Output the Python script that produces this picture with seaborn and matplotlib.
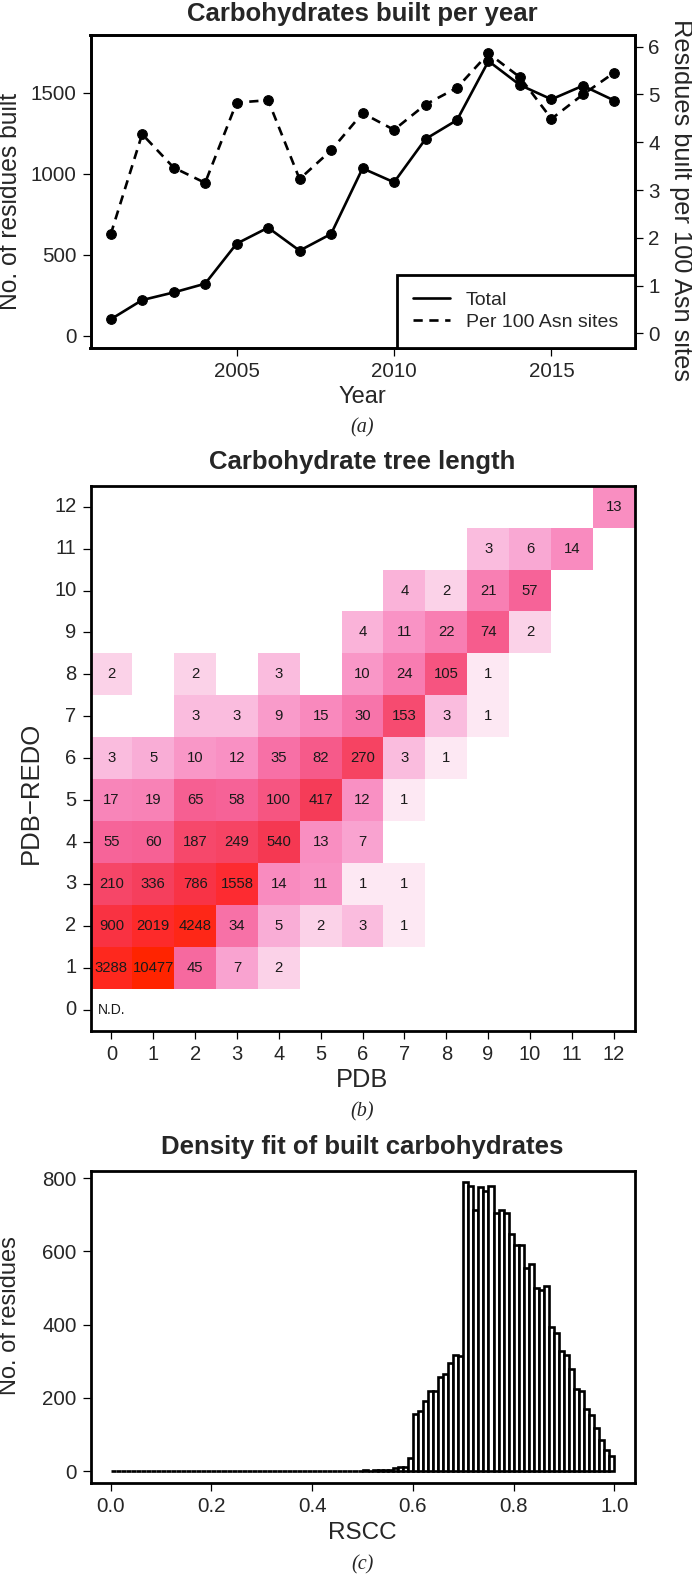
import numpy as np
import pandas as pd
import seaborn as sns
import matplotlib.pyplot as plt
from matplotlib.colors import LinearSegmentedColormap, LogNorm
from matplotlib.lines import Line2D

# (a) carbohydrates built per year
years = [2001, 2002, 2003, 2004, 2005, 2006, 2007, 2008, 2009,
         2010, 2011, 2012, 2013, 2014, 2015, 2016, 2017]
residues_total = [101, 220, 267, 321, 568, 667, 525, 628, 1033,
                  947, 1214, 1331, 1695, 1547, 1459, 1543, 1451]
residues_per_100_asn = [2.07, 4.17, 3.47, 3.15, 4.83, 4.88, 3.23, 3.83, 4.61,
                        4.26, 4.79, 5.14, 5.86, 5.36, 4.49, 5.00, 5.46]

# (b) tree length, rows = PDB-REDO length (12 down to 0), columns = PDB length 0..12
_ = None
tree_lengths = list(range(13))
redo_rows = list(range(12, -1, -1))
tree_counts = [
    [_, _, _, _, _, _, _, _, _, _, _, _, 13],
    [_, _, _, _, _, _, _, _, _, 3, 6, 14, _],
    [_, _, _, _, _, _, _, 4, 2, 21, 57, _, _],
    [_, _, _, _, _, _, 4, 11, 22, 74, 2, _, _],
    [2, _, 2, _, 3, _, 10, 24, 105, 1, _, _, _],
    [_, _, 3, 3, 9, 15, 30, 153, 3, 1, _, _, _],
    [3, 5, 10, 12, 35, 82, 270, 3, 1, _, _, _, _],
    [17, 19, 65, 58, 100, 417, 12, 1, _, _, _, _, _],
    [55, 60, 187, 249, 540, 13, 7, _, _, _, _, _, _],
    [210, 336, 786, 1558, 14, 11, 1, 1, _, _, _, _, _],
    [900, 2019, 4248, 34, 5, 2, 3, 1, _, _, _, _, _],
    [3288, 10477, 45, 7, 2, _, _, _, _, _, _, _, _],
    [_, _, _, _, _, _, _, _, _, _, _, _, _],
]
not_determined = 'N.D.'

# (c) RSCC histogram, 100 bins of width 0.01
rscc_counts = [
    0, 0, 0, 0, 0, 0, 0, 0, 0, 0,
    0, 0, 0, 0, 0, 0, 0, 0, 0, 0,
    0, 0, 0, 0, 0, 0, 0, 0, 0, 0,
    0, 0, 0, 0, 0, 0, 0, 0, 0, 0,
    0, 0, 0, 0, 0, 0, 0, 0, 0, 0,
    2, 1, 3, 2, 4, 4, 8, 12, 11, 36,
    155, 164, 191, 220, 220, 256, 265, 296, 317, 314,
    789, 780, 713, 777, 766, 780, 706, 713, 706, 647,
    618, 618, 556, 566, 499, 495, 506, 394, 378, 328,
    318, 280, 225, 218, 171, 154, 118, 86, 58, 41,
]

sns.set_style('ticks')
plt.rcParams['font.family'] = ['Liberation Sans', 'DejaVu Sans']
plt.rcParams['axes.linewidth'] = 2.0

W, H = 692, 1575
fig = plt.figure(figsize=(W / 100, H / 100), dpi=100)


def box(left, top, right, bottom):
    return [left / W, 1 - bottom / H, (right - left) / W, (bottom - top) / H]


def style_ticks(ax, size=14.8):
    ax.tick_params(direction='out', length=6, width=0.9, labelsize=size, pad=4, color='black')


def frame(ax):
    for s in ax.spines.values():
        s.set_visible(True)
        s.set_linewidth(2.0)
        s.set_color('black')


cx = 362.5 / W
title_kw = dict(ha='center', va='center', fontsize=18.5, fontweight='bold')
cap_kw = dict(ha='center', va='center', fontsize=14.5, style='italic', family='Liberation Serif')


def label(x, y, text, size, rot=0):
    fig.text(x / W, 1 - y / H, text, ha='center', va='center', fontsize=size, rotation=rot)


# ---------------- panel (a)
ax = fig.add_axes(box(90.5, 35, 634.6, 347.7))
sns.lineplot(x=years, y=residues_total, ax=ax, color='black', linewidth=1.9,
             marker='o', markersize=7, markeredgecolor='black')
ax.set_xlim(2000.36, 2017.64)
ax.set_ylim(-74, 1856)
ax.set_xticks([2005, 2010, 2015])
ax.set_yticks([0, 500, 1000, 1500])
ax.set_xlabel('')
ax.set_ylabel('')
style_ticks(ax)

ax2 = ax.twinx()
sns.lineplot(x=years, y=residues_per_100_asn, ax=ax2, color='black', linewidth=1.9,
             linestyle=(0, (3.5, 2.5)), marker='o', markersize=7, markeredgecolor='black')
ax2.set_ylim(-0.30, 6.245)
ax2.set_yticks(range(0, 7))
ax2.set_ylabel('')
style_ticks(ax2)
frame(ax2)

handles = [Line2D([], [], color='black', lw=1.9),
           Line2D([], [], color='black', lw=1.9, linestyle=(0, (3.5, 2.5)))]
leg = ax2.legend(handles, ['Total', 'Per 100 Asn sites'], loc='lower right',
                 borderaxespad=0, fancybox=False, framealpha=1, edgecolor='black',
                 fontsize=14, handlelength=1.9, handletextpad=0.8, borderpad=0.85,
                 labelspacing=0.25)
leg.get_frame().set_linewidth(2.0)

fig.text(cx, 1 - 14 / H, 'Carbohydrates built per year', **title_kw)
label(362.5, 397, 'Year', 17)
label(10, 201, 'No. of residues built', 17.7, 90)
label(681, 200, 'Residues built per 100 Asn sites', 18.3, 270)
fig.text(cx, 1 - 428 / H, '(a)', **cap_kw)

# ---------------- panel (b)
axb = fig.add_axes(box(90.5, 485.7, 634.6, 1030.7))
tree_df = pd.DataFrame(tree_counts, index=redo_rows, columns=tree_lengths, dtype=float)
annot = tree_df.apply(lambda col: col.map(lambda v: '' if pd.isna(v) else str(int(v))))
cmap = LinearSegmentedColormap.from_list('pinkred', [
    (0.0, '#fde8f3'), (0.075, '#fbd2e8'), (0.12, '#fabbdd'), (0.2, '#f9a6d2'),
    (0.28, '#f98cc0'), (0.43, '#f6649a'), (0.55, '#f64a6e'), (0.68, '#f53852'),
    (0.8, '#fd2b30'), (1.0, '#ff2400')])
sns.heatmap(tree_df, ax=axb, cmap=cmap, norm=LogNorm(vmin=1, vmax=10477),
            annot=annot.values, fmt='', cbar=False,
            annot_kws={'color': '#1a1a1a', 'fontsize': 10.7})
axb.text(tree_lengths.index(0) + 0.5, redo_rows.index(0) + 0.5, not_determined,
         ha='center', va='center', fontsize=10, color='#1a1a1a')
frame(axb)
axb.set_xlabel('')
axb.set_ylabel('')
axb.set_yticklabels(redo_rows, rotation=0)
axb.set_xticklabels(tree_lengths, rotation=0)
style_ticks(axb, 14.5)

fig.text(cx, 1 - 462 / H, 'Carbohydrate tree length', **title_kw)
label(362.5, 1080, 'PDB', 18.3)
label(31, 793, 'PDB\u2212REDO', 18.5, 90)
fig.text(cx, 1 - 1112 / H, '(b)', **cap_kw)

# ---------------- panel (c)
axc = fig.add_axes(box(90.5, 1170.7, 634.6, 1482.7))
rscc_df = pd.DataFrame({'rscc': np.arange(100) / 100 + 0.005, 'n': rscc_counts})
sns.histplot(data=rscc_df, x='rscc', weights='n', bins=100, binrange=(0, 1), ax=axc,
             color='white', edgecolor='black', linewidth=1.9, alpha=1)
axc.set_xlim(-0.04, 1.04)
axc.set_ylim(-31.6, 820.6)
axc.set_xticks([0.0, 0.2, 0.4, 0.6, 0.8, 1.0])
axc.set_xticklabels(['0.0', '0.2', '0.4', '0.6', '0.8', '1.0'])
axc.set_yticks([0, 200, 400, 600, 800])
axc.set_xlabel('')
axc.set_ylabel('')
style_ticks(axc)
frame(axc)

fig.text(cx, 1 - 1147 / H, 'Density fit of built carbohydrates', **title_kw)
label(362.5, 1533, 'RSCC', 17.5)
label(10, 1316, 'No. of residues', 17, 90)
fig.text(cx, 1 - 1565 / H, '(c)', **cap_kw)

fig.savefig('out.png', dpi=100)
